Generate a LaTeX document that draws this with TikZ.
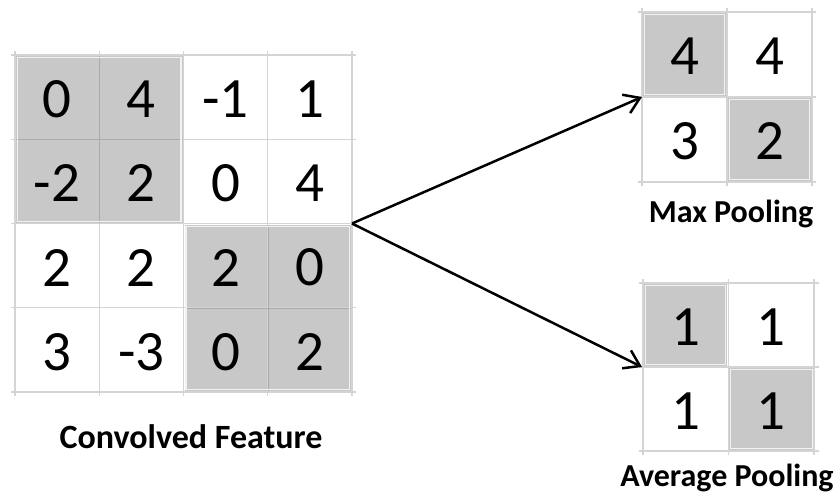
\documentclass[tikz,border=0pt]{standalone}
\usepackage{fontspec}
\setmainfont{Carlito}
\usetikzlibrary{arrows.meta}
\definecolor{gridc}{HTML}{D4D4D4}
\definecolor{shadec}{HTML}{C8C8C8}
\definecolor{innerc}{HTML}{AAAAAA}
\definecolor{rimc}{HTML}{F2F2F2}
\begin{document}
\begin{tikzpicture}[x=1pt,y=-1pt,
  gridline/.style={draw=gridc,line width=1.2pt},
  shadebox/.style={fill=shadec},
  innerline/.style={draw=innerc,line width=1pt},
  rim/.style={draw=rimc,line width=1.4pt},
  cell/.style={inner sep=0pt,font=\fontsize{57}{60}\selectfont},
  lab/.style={inner sep=0pt,anchor=base,font=\bfseries\fontsize{#1}{36}\selectfont},
  arrow/.style={line width=2.5pt,-{Straight Barb[length=15pt,width=20pt,line width=2.5pt]}}]
\useasboundingbox (0,0) rectangle (838,493);
% ---------- Convolved feature grid ----------
\def\cs{84.25}
% shaded blocks
\path[shadebox] (16,56) rectangle (182.5,223);
\path[shadebox] (184.5,225) rectangle (351,391);
% grid lines
\foreach \i in {0,...,4}{
  \draw[gridline] ({15+\cs*\i},51) -- ({15+\cs*\i},396);
  \draw[gridline] (11,{55+\cs*\i}) -- (356,{55+\cs*\i});
}
% inner lines of shaded blocks
\draw[innerline] (99.25,56) -- (99.25,223) (16,139.25) -- (182.5,139.25);
\draw[innerline] (268,225) -- (268,391) (184.5,308) -- (351,308);
% rims
\draw[rim] (17.5,57.5) rectangle (181,221.5);
\draw[rim] (186,226.5) rectangle (349.5,389.5);
% numbers
\foreach \r/\row in {1/{0,4,-1,1},2/{-2,2,0,4},3/{2,2,2,0},4/{3,-3,0,2}}{
  \foreach \v [count=\c] in \row {
    \node[cell] (cf-\r-\c) at ({15+\cs*(\c-0.5)},{55+\cs*(\r-0.5)+2}) {\v};
  }
}
\coordinate (cfE) at (352,223.5);
\node[lab=34] (cflabel) at (191,448) {Convolved Feature};
% ---------- Max pooling ----------
\def\ps{85}
\path[shadebox] (643,13) rectangle (726,96);
\path[shadebox] (728,98) rectangle (811,181);
\foreach \i in {0,1,2}{
  \draw[gridline] ({642+\ps*\i},8) -- ({642+\ps*\i},186);
  \draw[gridline] (638,{12+\ps*\i}) -- (816,{12+\ps*\i});
}
\draw[rim] (644.5,14.5) rectangle (724.5,94.5);
\draw[rim] (729.5,99.5) rectangle (809.5,179.5);
\foreach \r/\row in {1/{4,4},2/{3,2}}{
  \foreach \v [count=\c] in \row {
    \node[cell] (mp-\r-\c) at ({642+\ps*(\c-0.5)},{12+\ps*(\r-0.5)+2}) {\v};
  }
}
\coordinate (mpW) at (642,97);
\node[lab=32] (mplabel) at (731,222) {Max Pooling};
% ---------- Average pooling ----------
\path[shadebox] (644,284) rectangle (727,366);
\path[shadebox] (729,368) rectangle (814,450);
\foreach \i in {0,1,2}{
  \draw[gridline] ({643+85.5*\i},279) -- ({643+85.5*\i},455);
  \draw[gridline] (639,{283+84*\i}) -- (819,{283+84*\i});
}
\draw[rim] (645.5,285.5) rectangle (725.5,364.5);
\draw[rim] (730.5,369.5) rectangle (812.5,448.5);
\foreach \r/\row in {1/{1,1},2/{1,1}}{
  \foreach \v [count=\c] in \row {
    \node[cell] (ap-\r-\c) at ({643+85.5*(\c-0.5)},{283+84*(\r-0.5)+2}) {\v};
  }
}
\coordinate (apW) at (642,367);
\node[lab=32] (aplabel) at (727,486) {Average Pooling};
% ---------- arrows ----------
\draw[arrow] (cfE) -- (mpW);
\draw[arrow] (cfE) -- (apW);
\end{tikzpicture}
\end{document}
